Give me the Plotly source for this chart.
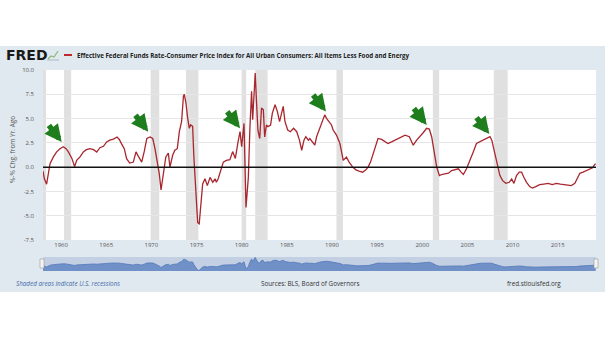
import plotly.graph_objects as go

# ---------------- data (decimal years) ----------------
years = [1958.0, 1958.15, 1958.4, 1958.6, 1958.78, 1959.15, 1959.51, 1959.88, 1960.25, 1960.55, 1960.8,
         1961.2, 1961.36, 1961.5, 1961.73, 1962.1, 1962.47, 1962.8, 1963.2, 1963.6, 1963.95, 1964.3,
         1964.7, 1965.05, 1965.4, 1965.8, 1966.2, 1966.45, 1966.7, 1967.0, 1967.26, 1967.6, 1968.0,
         1968.3, 1968.6, 1968.93, 1969.2, 1969.5, 1969.85, 1970.15, 1970.4, 1970.65, 1970.88, 1971.07,
         1971.3, 1971.6, 1971.88, 1972.06, 1972.36, 1972.6, 1972.87, 1973.1, 1973.35, 1973.55, 1973.65,
         1973.83, 1974.0, 1974.2, 1974.35, 1974.57, 1974.7, 1974.94, 1975.13, 1975.3, 1975.5, 1975.68,
         1975.94, 1976.2, 1976.5, 1976.8, 1977.05, 1977.2, 1977.4, 1977.8, 1977.97, 1978.3, 1978.7,
         1979.0, 1979.3, 1979.6, 1979.82, 1980.0, 1980.26, 1980.48, 1980.74, 1980.92, 1981.1, 1981.22,
         1981.4, 1981.5, 1981.65, 1981.8, 1982.0, 1982.2, 1982.4, 1982.55, 1982.74, 1982.9, 1983.2,
         1983.4, 1983.7, 1983.95, 1984.2, 1984.4, 1984.6, 1984.8, 1985.1, 1985.4, 1985.75, 1986.1,
         1986.4, 1986.65, 1986.9, 1987.1, 1987.4, 1987.55, 1987.85, 1988.1, 1988.3, 1988.65, 1988.95,
         1989.2, 1989.4, 1989.7, 1989.95, 1990.13, 1990.5, 1990.88, 1991.06, 1991.25, 1991.6, 1991.9,
         1992.3, 1992.65, 1993.0, 1993.4, 1993.75, 1994.0, 1994.27, 1994.56, 1994.86, 1995.1, 1995.5,
         1995.85, 1996.2, 1996.6, 1996.97, 1997.45, 1998.1, 1998.57, 1999.0, 1999.38, 1999.75, 2000.1,
         2000.48, 2000.78, 2001.04, 2001.3, 2001.6, 2001.9, 2002.15, 2002.5, 2002.9, 2003.25, 2003.6,
         2004.0, 2004.3, 2004.55, 2004.9, 2005.3, 2005.65, 2006.0, 2006.4, 2006.77, 2007.13, 2007.5,
         2007.7, 2007.94, 2008.24, 2008.42, 2008.6, 2008.9, 2009.26, 2009.63, 2009.9, 2010.15, 2010.44,
         2010.74, 2011.0, 2011.25, 2011.55, 2011.9, 2012.2, 2012.57, 2013.0, 2013.45, 2013.93, 2014.4,
         2014.85, 2015.3, 2015.77, 2016.14, 2016.5, 2016.9, 2017.15, 2017.45, 2017.8, 2018.2, 2018.56,
         2018.86, 2019.1, 2019.2]
values = [-0.4, -1.2, -1.75, -0.6, 0.35, 1.05, 1.57, 1.9, 2.1, 1.9, 1.6,
          0.9, 0.35, 0.05, 0.7, 1.05, 1.57, 1.8, 1.9, 1.8, 1.55, 2.0,
          2.15, 2.6, 2.78, 2.88, 3.1, 2.85, 2.4, 1.9, 0.87, 0.42, 0.52,
          1.57, 1.05, 0.52, 1.57, 2.95, 3.1, 2.95, 1.9, 0.7, -0.7, -2.35,
          -1.05, 1.05, 1.45, 0.0, 1.22, 1.75, 1.9, 3.65, 4.7, 7.3, 7.5,
          6.6, 5.2, 4.0, 4.35, 4.2, 1.2, -2.1, -5.72, -5.83, -3.8, -1.73,
          -1.2, -1.9, -1.05, -1.56, -1.2, -1.56, -1.2, 0.17, 0.52, 0.7, 0.76,
          1.6, 0.9, 2.6, 3.65, 2.1, 4.5, -4.16, -1.05, 4.17, 7.8, 4.87,
          8.7, 9.7, 6.6, 3.8, 2.95, 6.08, 5.9, 3.1, 4.34, 4.17, 4.34,
          5.56, 6.43, 5.74, 4.69, 5.56, 6.25, 4.69, 3.82, 3.65, 4.0, 3.65,
          2.78, 1.74, 2.78, 3.13, 2.78, 2.95, 2.6, 2.26, 3.13, 4.0, 4.69,
          5.38, 5.03, 4.69, 4.34, 3.82, 3.3, 2.43, 1.74, 0.7, 1.04, 0.52,
          0.0, -0.28, -0.42, -0.52, -0.28, 0.0, 0.52, 1.39, 2.26, 2.95, 2.85,
          2.6, 2.43, 2.6, 2.78, 3.06, 3.3, 3.13, 2.26, 2.78, 3.13, 3.54,
          4.0, 3.92, 3.13, 1.57, 0.0, -0.87, -0.76, -0.7, -0.63, -0.35, -0.28,
          -0.17, -0.52, -0.76, -0.17, 0.7, 1.57, 2.43, 2.6, 2.78, 2.95, 3.13,
          2.78, 1.74, 0.7, -0.35, -0.87, -1.39, -1.67, -1.56, -1.22, -1.67, -0.87,
          -0.52, -0.52, -1.04, -1.56, -2.0, -2.15, -2.0, -1.8, -1.74, -1.67, -1.8,
          -1.67, -1.74, -1.8, -1.9, -1.9, -1.67, -1.22, -0.63, -0.52, -0.35, -0.28,
          -0.07, 0.28, 0.35]

recession_starts = [1957.58, 1960.33, 1969.92, 1973.83, 1980.0, 1981.5, 1990.5, 2001.17, 2007.92]
recession_ends = [1958.33, 1961.12, 1970.87, 1975.21, 1980.5, 1982.87, 1991.21, 2001.87, 2009.46]

arrow_years = [1960.07, 1969.66, 1979.82, 1989.34, 2000.49, 2007.43]
arrow_values = [2.6, 3.65, 4.0, 5.73, 4.34, 3.4]

x_ticks = [1960, 1965, 1970, 1975, 1980, 1985, 1990, 1995, 2000, 2005, 2010, 2015]
y_ticks = [-7.5, -5.0, -2.5, 0.0, 2.5, 5.0, 7.5, 10.0]

series_name = ("Effective Federal Funds Rate-Consumer Price Index for All Urban Consumers: "
               "All Items Less Food and Energy")

# ---------------- figure ----------------
W, H = 605, 341
ML, MR, MT, MB = 43, 9, 70, 70
PW, PH = W - ML - MR, H - MT - MB


def px_x(p):  # pixel -> paper x
    return (p - ML) / PW


def px_y(p):  # pixel (from top) -> paper y
    return (H - MB - p) / PH


BAND = "#e1e9f0"
TICKC = "#555555"
FONT = "Open Sans"

fig = go.Figure()

fig.add_trace(go.Scatter(x=years, y=values, mode="lines",
                         line=dict(color="#a8262e", width=1.3),
                         xaxis="x", yaxis="y", showlegend=False, hoverinfo="skip"))

# navigator (mini chart)
nav_base = [-6.6] * len(years)
fig.add_trace(go.Scatter(x=years, y=nav_base, mode="lines", line=dict(width=0),
                         xaxis="x2", yaxis="y2", showlegend=False, hoverinfo="skip"))
fig.add_trace(go.Scatter(x=years, y=values, mode="lines", fill="tonexty",
                         fillcolor="#7090c8", line=dict(color="#5377b8", width=0.8),
                         xaxis="x2", yaxis="y2", showlegend=False, hoverinfo="skip"))

shapes = []
# white areas outside FRED band
shapes.append(dict(type="rect", xref="paper", yref="paper", x0=px_x(-5), x1=px_x(W + 5),
                   y0=px_y(-5), y1=px_y(46), fillcolor="white", line=dict(width=0), layer="below"))
shapes.append(dict(type="rect", xref="paper", yref="paper", x0=px_x(-5), x1=px_x(W + 5),
                   y0=px_y(292), y1=px_y(H + 5), fillcolor="white", line=dict(width=0), layer="below"))
# recessions
for s, e in zip(recession_starts, recession_ends):
    shapes.append(dict(type="rect", xref="x", yref="y domain", x0=s, x1=e, y0=0, y1=1,
                       fillcolor="#e0e0e0", line=dict(width=0), layer="below"))
# navigator background
shapes.append(dict(type="rect", xref="x2 domain", yref="y2 domain", x0=0, x1=1, y0=0, y1=1,
                   fillcolor="#c3cfe3", line=dict(width=0), layer="below"))
# zero line
shapes.append(dict(type="line", xref="x domain", yref="y", x0=0, x1=1, y0=0, y1=0,
                   line=dict(color="#111111", width=1.5), layer="above"))
# navigator handles
for hx in (42, 596):
    shapes.append(dict(type="rect", xref="paper", yref="paper", x0=px_x(hx - 2), x1=px_x(hx + 2),
                       y0=px_y(268), y1=px_y(259), fillcolor="#f4f4f4",
                       line=dict(color="#999999", width=0.6), layer="above"))
# legend swatch
shapes.append(dict(type="line", xref="paper", yref="paper", x0=px_x(64), x1=px_x(72),
                   y0=px_y(55), y1=px_y(55), line=dict(color="#c0282f", width=2)))
# small FRED graph icon
icon_path = "M {} {} L {} {} L {} {} L {} {}".format(
    px_x(48), px_y(59), px_x(51), px_y(56), px_x(54), px_y(57), px_x(58), px_y(51))
shapes.append(dict(type="path", xref="paper", yref="paper", path=icon_path,
                   line=dict(color="#8db87a", width=1.2)))
shapes.append(dict(type="line", xref="paper", yref="paper", x0=px_x(47), x1=px_x(59),
                   y0=px_y(60), y1=px_y(60), line=dict(color="#9aa9b8", width=0.8)))

annotations = []
annotations.append(dict(text="<b>FRED</b>", xref="paper", yref="paper", x=px_x(4), y=px_y(55),
                        xanchor="left", yanchor="middle", showarrow=False,
                        font=dict(family="DejaVu Sans", size=14, color="#1a1a1a")))
annotations.append(dict(text="<b>" + series_name + "</b>", xref="paper", yref="paper",
                        x=px_x(75), y=px_y(55), xanchor="left", yanchor="middle", showarrow=False,
                        font=dict(family=FONT, size=6.2, color="#222222")))
annotations.append(dict(text="%-% Chg. from Yr. Ago", xref="paper", yref="paper", x=px_x(12),
                        y=px_y(150), xanchor="center", yanchor="middle", textangle=-90,
                        showarrow=False, font=dict(family=FONT, size=6.5, color=TICKC)))
annotations.append(dict(text="<i>Shaded areas indicate U.S. recessions</i>", xref="paper",
                        yref="paper", x=px_x(14), y=px_y(283), xanchor="left", yanchor="middle",
                        showarrow=False, font=dict(family=FONT, size=6.3, color="#3d6aa8")))
annotations.append(dict(text="Sources: BLS, Board of Governors", xref="paper", yref="paper",
                        x=px_x(259), y=px_y(283), xanchor="left", yanchor="middle",
                        showarrow=False, font=dict(family=FONT, size=6.3, color="#333333")))
annotations.append(dict(text="fred.stlouisfed.org", xref="paper", yref="paper",
                        x=px_x(505), y=px_y(283), xanchor="left", yanchor="middle",
                        showarrow=False, font=dict(family=FONT, size=6.3, color="#333333")))
for ax_, ay_ in zip(arrow_years, arrow_values):
    annotations.append(dict(x=ax_, y=ay_, xref="x", yref="y", text="", showarrow=True,
                            ax=-14, ay=-18, arrowhead=2, arrowsize=0.62, arrowwidth=5.5,
                            arrowcolor="#1e7e1e", standoff=0))

fig.update_layout(
    width=W, height=H,
    margin=dict(l=ML, r=MR, t=MT, b=MB, pad=0),
    paper_bgcolor=BAND, plot_bgcolor="white",
    shapes=shapes, annotations=annotations,
    xaxis=dict(domain=[0, 1], range=[1958.0, 2019.24], tickvals=x_ticks,
               ticktext=[str(t) for t in x_ticks], showgrid=False, zeroline=False,
               showline=False, ticks="", anchor="y",
               tickfont=dict(family=FONT, size=6, color=TICKC)),
    yaxis=dict(domain=[px_y(240), 1], range=[-7.5, 10], tickvals=y_ticks,
               ticktext=["%.1f" % v for v in y_ticks], showgrid=True, gridcolor="#e6e6e6",
               gridwidth=1, zeroline=False, showline=False, ticks="", ticklabelstandoff=8,
               tickfont=dict(family=FONT, size=6, color=TICKC)),
    xaxis2=dict(domain=[0, 1], range=[1958.0, 2019.24], anchor="y2", visible=False),
    yaxis2=dict(domain=[0, px_y(257)], range=[-6.6, 10.2], anchor="x2", visible=False),
)

fig.write_html("out.html")
